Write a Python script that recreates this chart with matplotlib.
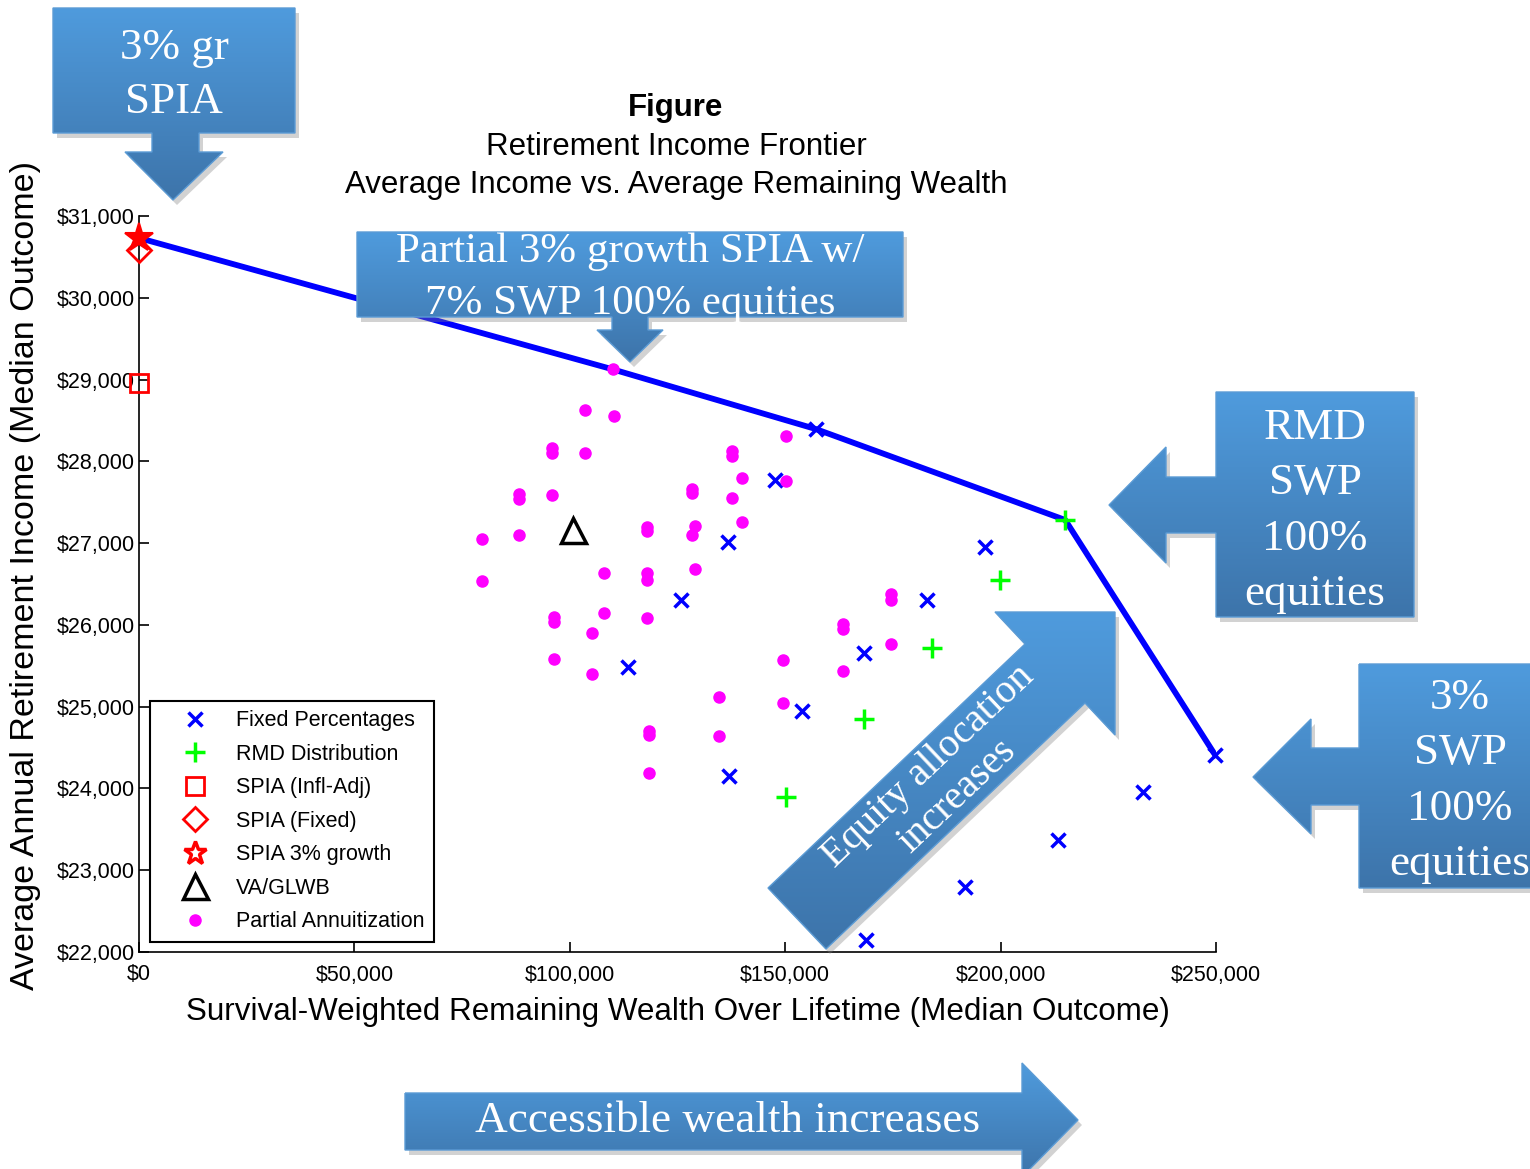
import numpy as np
import matplotlib
matplotlib.use("Agg")
import matplotlib.pyplot as plt
from matplotlib.patches import Polygon
from matplotlib.colors import LinearSegmentedColormap
from matplotlib.ticker import FuncFormatter

plt.rcParams["font.family"] = ["Liberation Sans", "DejaVu Sans"]

# frontier (blue line)
frontier_x = [0, 110100, 157100, 215000, 249800]
frontier_y = [30731, 29123, 28395, 27283, 24409]

# Fixed Percentages
fixed_x = [157100, 147600, 136700, 196400, 125800, 182900, 168300, 113500,
           153900, 249800, 233100, 137000, 213300, 191700, 168800]
fixed_y = [28395, 27772, 27013, 26952, 26304, 26304, 25656, 25485,
           24947, 24409, 23956, 24152, 23370, 22795, 22147]

# RMD Distribution
rmd_x = [215000, 199900, 184100, 168300, 150200]
rmd_y = [27283, 26549, 25717, 24849, 23895]

# single products
spia_infl = (0, 28958)
spia_fixed = (0, 30584)
spia_growth = (0, 30731)
va_glwb = (100700, 27160)

# Partial Annuitization
partial_x = [110100, 103600, 110200, 95900, 95900, 103600, 88100, 88100, 95900,
             79600, 88100, 79600, 117900, 117900, 107900, 117900, 117900, 129100,
             128300, 128300, 137600, 137600, 139900, 137600, 139900, 129100, 128400,
             150300, 150300, 96300, 96300, 96300, 107900, 117900, 105200, 105200,
             134600, 149600, 163400, 163400, 174600, 174600, 174600, 163400, 149600,
             134600, 118300, 118300, 118300]
partial_y = [29123, 28624, 28558, 28159, 28098, 28105, 27597, 27536, 27588,
             27046, 27095, 26533, 27201, 27152, 26637, 26638, 26549, 26683,
             27662, 27609, 28126, 28065, 27800, 27548, 27264, 27215, 27103,
             28310, 27763, 26100, 26040, 25586, 26145, 26084, 25897, 25396,
             25122, 25571, 26005, 25950, 26378, 26310, 25763, 25436, 25048,
             24638, 24702, 24653, 24185]

W, H = 1530, 1169
fig = plt.figure(figsize=(W / 100, H / 100), dpi=100)
ax = fig.add_axes([139 / W, 1 - 952 / H, 1077 / W, 736 / H])

ax.plot(frontier_x, frontier_y, color="#0000ff", lw=4.2, zorder=2)
ax.plot(fixed_x, fixed_y, "x", color="#0000ff", ms=10, mew=2.5, ls="none",
        label="Fixed Percentages", zorder=3, clip_on=False)
ax.plot(rmd_x, rmd_y, "+", color="#00ff00", ms=14, mew=2.5, ls="none",
        label="RMD Distribution", zorder=3, clip_on=False)
ax.plot(*spia_infl, "s", mfc="none", mec="#ff0000", ms=13, mew=2, ls="none",
        label="SPIA (Infl-Adj)", zorder=3, clip_on=False)
ax.plot(*spia_fixed, "D", mfc="none", mec="#ff0000", ms=12, mew=2, ls="none",
        label="SPIA (Fixed)", zorder=3, clip_on=False)
ax.plot(*spia_growth, "*", mfc="#ff0000", mec="#ff0000", ms=21, mew=1.5, ls="none",
        label="SPIA 3% growth", zorder=4, clip_on=False)
ax.plot(*va_glwb, "^", mfc="none", mec="black", ms=18, mew=2.5, ls="none",
        label="VA/GLWB", zorder=3)
ax.plot(partial_x, partial_y, "o", color="#ff00ff", ms=8, ls="none",
        label="Partial Annuitization", zorder=3)

ax.set_xlim(0, 250000)
ax.set_ylim(22000, 31000)
ax.set_xticks(range(0, 250001, 50000))
ax.set_yticks(range(22000, 31001, 1000))
ax.xaxis.set_major_formatter(FuncFormatter(lambda v, p: f"${v:,.0f}"))
ax.yaxis.set_major_formatter(FuncFormatter(lambda v, p: f"${v:,.0f}"))
ax.tick_params(direction="in", length=7, width=1.2, labelsize=15.5, pad=9)
ax.tick_params(axis="y", pad=3)
for s in ["top", "right"]:
    ax.spines[s].set_visible(False)
for s in ["left", "bottom"]:
    ax.spines[s].set_linewidth(1.2)

ax.set_xlabel("Survival-Weighted Remaining Wealth Over Lifetime (Median Outcome)",
              fontsize=22.6, labelpad=8)
ax.set_ylabel("Average Annual Retirement Income (Median Outcome)", fontsize=24.5)
ax.yaxis.set_label_coords(-0.091, 0.512)

# legend: show the red star as an outline like the original
handles, labels = ax.get_legend_handles_labels()
leg = ax.legend(handles, labels, loc="lower left", bbox_to_anchor=(0.0102, 0.0136),
                borderaxespad=0, fontsize=15.5, frameon=True, fancybox=False,
                edgecolor="black", handlelength=3.3, handletextpad=0.25,
                labelspacing=0.58, borderpad=0.45, numpoints=1)
leg.get_frame().set_linewidth(1.5)
leg.get_frame().set_alpha(1)
leg.legend_handles[4].set_markerfacecolor("none")
leg.legend_handles[4].set_markeredgewidth(2.5)
leg.legend_handles[4].set_markersize(17)

# overlay in pixel coordinates for titles and callouts
ov = fig.add_axes([0, 0, 1, 1], zorder=5)
ov.set_xlim(0, W)
ov.set_ylim(H, 0)
ov.axis("off")
ov.patch.set_visible(False)

ov.text(676, 108, "Figure", ha="center", va="center", fontsize=22.5, fontweight="bold")
ov.text(676, 147, "Retirement Income Frontier", ha="center", va="center", fontsize=22.5)
ov.text(676, 185, "Average Income vs. Average Remaining Wealth", ha="center",
        va="center", fontsize=22.5)

cmap = LinearSegmentedColormap.from_list("blu", ["#4f9bdd", "#3d74aa"])
grad = np.linspace(0, 1, 256).reshape(-1, 1)


def callout(pts):
    pts = np.array(pts, dtype=float)
    sh = Polygon(pts + [4, 5], closed=True, fc="#7f7f7f", ec="none", alpha=0.35, zorder=1)
    ov.add_patch(sh)
    poly = Polygon(pts, closed=True, fc="none", ec="#5b9bd5", lw=1, zorder=3)
    ov.add_patch(poly)
    im = ov.imshow(grad, cmap=cmap, aspect="auto", zorder=2,
                   extent=(pts[:, 0].min(), pts[:, 0].max(), pts[:, 1].max(), pts[:, 1].min()))
    im.set_clip_path(poly)


serif = dict(color="white", family=["Liberation Serif", "DejaVu Serif"], ha="center",
             va="center", zorder=4)

callout([(53, 8), (295, 8), (295, 133), (199, 133), (199, 152), (223, 152), (173, 200),
         (125, 152), (152, 152), (152, 133), (53, 133)])
ov.text(174, 75, "3% gr\nSPIA", fontsize=32.5, linespacing=1.45, **serif)

callout([(357, 232), (903, 232), (903, 317), (648, 317), (648, 330), (663, 330), (630, 362),
         (597, 330), (612, 330), (612, 317), (357, 317)])
ov.text(630, 278, "Partial 3% growth SPIA w/\n7% SWP 100% equities", fontsize=31,
        linespacing=1.45, **serif)

callout([(1216, 392), (1414, 392), (1414, 617), (1216, 617), (1216, 533), (1166, 533),
         (1166, 563), (1109, 505), (1166, 447), (1166, 477), (1216, 477)])
ov.text(1315, 511, "RMD\nSWP\n100%\nequities", fontsize=32.5, linespacing=1.5, **serif)

callout([(1359, 664), (1540, 664), (1540, 888), (1359, 888), (1359, 805), (1311, 805),
         (1311, 834), (1253, 777), (1311, 719), (1311, 748), (1359, 748)])
ov.text(1460, 781, "3%\nSWP\n100%\nequities", fontsize=32.5, linespacing=1.5, **serif)

callout([(768, 888), (1025, 644), (995, 612), (1115, 612), (1115, 735), (1085, 703),
         (826, 949)])
ov.text(943, 781, "Equity allocation\nincreases", fontsize=29, rotation=43.5,
        linespacing=1.15, **serif)

callout([(405, 1093), (1022, 1093), (1022, 1063), (1078, 1120), (1022, 1177), (1022, 1150),
         (405, 1150)])
ov.text(728, 1121, "Accessible wealth increases", fontsize=32.5, **serif)

ov.set_xlim(0, W)
ov.set_ylim(H, 0)

fig.savefig("out.png", dpi=100)
